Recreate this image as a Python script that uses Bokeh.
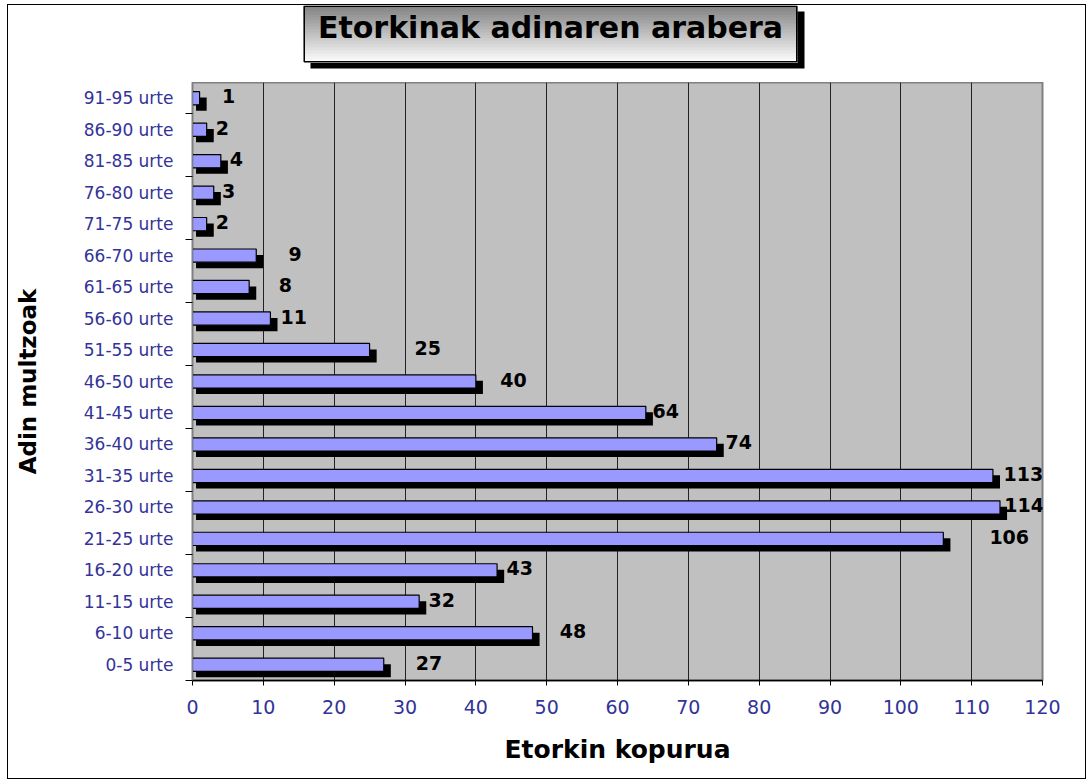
from bokeh.plotting import figure
from bokeh.layouts import column
from bokeh.models import (FactorRange, Range1d, LinearAxis, CategoricalAxis, FixedTicker,
                          ColumnDataSource)
from bokeh.transform import dodge
from bokeh.core.properties import value
from bokeh.embed import file_html
from bokeh.resources import INLINE

# ---------------- data ----------------
categories = ["0-5 urte", "6-10 urte", "11-15 urte", "16-20 urte", "21-25 urte",
              "26-30 urte", "31-35 urte", "36-40 urte", "41-45 urte", "46-50 urte",
              "51-55 urte", "56-60 urte", "61-65 urte", "66-70 urte", "71-75 urte",
              "76-80 urte", "81-85 urte", "86-90 urte", "91-95 urte"]
counts = [27, 48, 32, 43, 106, 114, 113, 74, 64, 40, 25, 11, 8, 9, 2, 3, 4, 2, 1]
x_ticks = [0, 10, 20, 30, 40, 50, 60, 70, 80, 90, 100, 110, 120]
title_text = "Etorkinak adinaren arabera"
x_title = "Etorkin kopurua"
y_title = "Adin multzoak"

# label offsets (style: where Excel put each data label, in x units)
label_dx = [6.4, 5.7, 3.2, 3.2, 9.3, 3.4, 4.3, 3.1, 2.8, 5.3, 8.2, 3.3, 5.1, 5.5, 2.2, 2.1, 2.2, 2.2, 4.1]

FONT = "DejaVu Sans"
BLUE = "#333399"
W = 1077
TOP_H = 77
MAIN_H = 696
BL, BR = 184, 43   # left / right borders shared by both panels

# ---------------- title strip (gradient box with shadow) ----------------
t = figure(width=W, height=TOP_H, output_backend="svg", toolbar_location=None,
           x_range=Range1d(BL, W - BR), y_range=Range1d(TOP_H, 0),
           x_axis_location=None, y_axis_location=None,
           min_border_left=BL, min_border_right=BR,
           min_border_top=0, min_border_bottom=0,
           background_fill_color="white", border_fill_color="white")
t.outline_line_color = None
t.xgrid.grid_line_color = None
t.ygrid.grid_line_color = None

bl, br, btop, bbot = 295, 789, 0, 57
t.quad(left=[bl + 7], right=[br + 7], top=[btop + 6], bottom=[bbot + 6],
       fill_color="black", line_color=None)
nstrip = 19
strip_h = (bbot - btop) / nstrip
shades = []
for i in range(nstrip):
    g = int(round(0x84 + (0xFB - 0x84) * i / (nstrip - 1)))
    shades.append("#%02x%02x%02x" % (g, g, g))
t.quad(left=[bl] * nstrip, right=[br] * nstrip,
       top=[btop + i * strip_h for i in range(nstrip)],
       bottom=[btop + (i + 1) * strip_h + 0.5 for i in range(nstrip)],
       fill_color=shades, line_color=None)
t.quad(left=[bl + 0.75], right=[br - 0.75], top=[btop + 0.75], bottom=[bbot - 0.75],
       fill_alpha=0, line_color="black", line_width=1.5)
t.text(x=[(bl + br) / 2], y=[22], text=[title_text], text_align="center",
       text_baseline="alphabetic", text_font=value(FONT), text_font_size="30px",
       text_font_style="bold", text_color="black")

# ---------------- main chart ----------------
src = ColumnDataSource(dict(
    cat=categories,
    n=counts,
    shadow_right=[c + 1.0 for c in counts],
    lx=[c + d for c, d in zip(counts, label_dx)],
    txt=[str(c) for c in counts],
))

p = figure(width=W, height=MAIN_H, output_backend="svg", toolbar_location=None,
           y_range=FactorRange(factors=categories, range_padding=0),
           x_range=Range1d(0, 120), y_axis_location=None,
           min_border_left=BL, min_border_right=BR, min_border_top=0, min_border_bottom=98,
           background_fill_color="#C0C0C0", border_fill_color="white")
p.outline_line_color = "#808080"
p.outline_line_width = 2

# y tick marks at every second category boundary (synthetic coordinates, no labels)
tick_axis = LinearAxis(ticker=FixedTicker(ticks=list(range(0, len(categories), 2))),
                       major_tick_out=7, major_tick_in=0, minor_tick_out=0, minor_tick_in=0,
                       major_label_text_font_size="0px", major_label_text_color=None,
                       major_label_standoff=0,
                       axis_line_color="#808080", major_tick_line_color="black")
p.add_layout(tick_axis, "left")

cat_axis = CategoricalAxis(major_tick_out=0, major_tick_in=0, major_tick_line_color=None,
                           axis_line_color=None, major_label_standoff=12,
                           major_label_text_font=FONT, major_label_text_font_size="17px",
                           major_label_text_color=BLUE,
                           axis_label=y_title, axis_label_text_font=FONT,
                           axis_label_text_font_size="23px", axis_label_text_font_style="bold",
                           axis_label_text_color="black", axis_label_standoff=40)
p.add_layout(cat_axis, "left")

xa = p.xaxis[0]
xa.ticker = FixedTicker(ticks=x_ticks)
xa.major_tick_out = 5
xa.major_tick_in = 0
xa.minor_tick_line_color = None
xa.axis_line_color = "black"
xa.axis_line_width = 1.5
xa.major_label_text_font = FONT
xa.major_label_text_font_size = "19px"
xa.major_label_text_color = BLUE
xa.major_label_standoff = 14
xa.axis_label = x_title
xa.axis_label_text_font = FONT
xa.axis_label_text_font_size = "25px"
xa.axis_label_text_font_style = "bold"
xa.axis_label_text_color = "black"
xa.axis_label_standoff = 18

p.xgrid.ticker = FixedTicker(ticks=x_ticks)
p.xgrid.grid_line_color = "#222222"
p.xgrid.grid_line_width = 1
p.ygrid.grid_line_color = None

# shadow bars
p.hbar(y=dodge("cat", -0.19, range=p.y_range), left=0.5, right="shadow_right", height=0.42,
       source=src, fill_color="black", line_color=None)
# main bars
p.hbar(y="cat", left=0, right="n", height=0.42, source=src,
       fill_color="#9999FF", line_color="black", line_width=1.2)
# data labels
p.text(x="lx", y="cat", text="txt", source=src, text_align="center", text_baseline="middle",
       y_offset=-2, text_font=value(FONT), text_font_size="19px", text_font_style="bold",
       text_color="black")

layout = column(t, p, spacing=0)
layout.styles = {"border": "1px solid black", "margin-left": "7px", "margin-top": "4px"}

open("out.html", "w").write(file_html(layout, INLINE))
